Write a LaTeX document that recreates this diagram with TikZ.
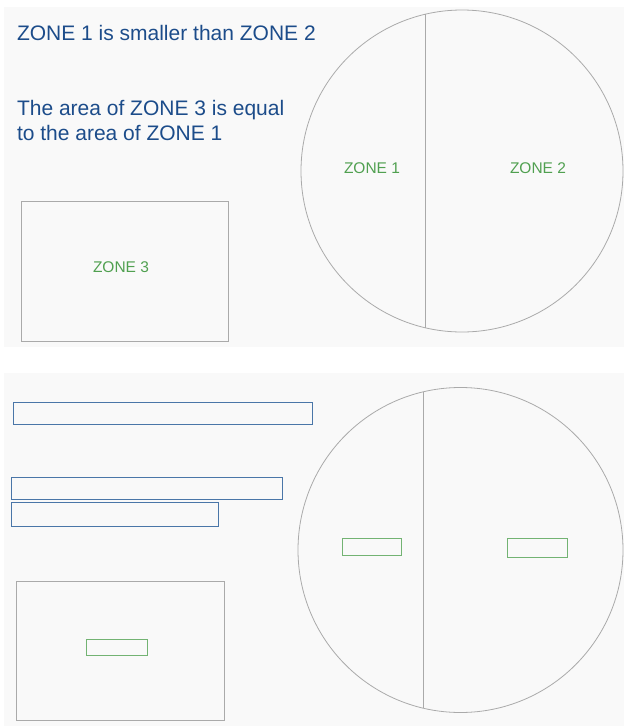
\documentclass[tikz,border=0pt]{standalone}
\usepackage{fontspec}
\setmainfont{Liberation Sans}
\definecolor{panelgray}{RGB}{249,249,249}
\definecolor{linegray}{RGB}{170,170,170}
\definecolor{textblue}{RGB}{28,76,138}
\definecolor{boxblue}{RGB}{74,118,168}
\definecolor{zonegreen}{RGB}{80,160,80}
\begin{document}
\begin{tikzpicture}[
  x=1pt, y=-1pt,
  every node/.style={inner sep=0pt, outer sep=0pt},
  panel/.style={fill=panelgray},
  statement/.style={font=\fontsize{21}{25}\selectfont, text=textblue, align=left},
  disc/.style={circle, draw=linegray, line width=0.8pt},
  chord/.style={draw=linegray, line width=1pt},
  zonebox/.style={rectangle, draw=linegray, line width=0.9pt},
  zonelabel/.style={font=\fontsize{15.5}{18}\selectfont, text=zonegreen},
  textslot/.style={rectangle, draw=boxblue, line width=1pt, minimum height=22pt},
  labelslot/.style={rectangle, draw=zonegreen!80, line width=0.9pt}
]
\useasboundingbox (0,0) rectangle (624,726);

% Panels
\fill[panel] (4,7) rectangle (624,347);
\fill[panel] (4,373) rectangle (624,726);

% Top panel: statements
\node[statement, anchor=base west] (claim1) at (17,40) {ZONE 1 is smaller than ZONE 2};
\node[statement, anchor=north west] (claim2) at (17,100.5) {The area of ZONE 3 is equal\\to the area of ZONE 1};

% Top panel: circle and rectangle
\node[disc, minimum size=322pt] (circleA) at (462,171) {};
\draw[chord] (circleA.103) -- (circleA.103 |- circleA.257);
\node[zonelabel] (zone1A) at (372,168) {ZONE 1};
\node[zonelabel] (zone2A) at (538,168) {ZONE 2};
\node[zonebox, minimum width=207pt, minimum height=140pt] (rectA) at (124.5,271) {};
\node[zonelabel] (zone3A) at (121,267) {ZONE 3};

% Bottom panel: empty slots
\node[textslot, minimum width=299pt] (slot1) at (162.5,413) {};
\node[textslot, minimum width=271pt] (slot2) at (146.5,488) {};
\node[textslot, minimum width=207pt, minimum height=24pt] (slot3) at (114.5,514) {};

\node[disc, minimum size=325pt] (circleB) at (460.5,550) {};
\draw[chord] (circleB.103) -- (circleB.103 |- circleB.257);
\node[labelslot, minimum width=59pt, minimum height=17pt] (zone1B) at (371.5,546.5) {};
\node[labelslot, minimum width=60pt, minimum height=19pt] (zone2B) at (537,547.5) {};
\node[zonebox, minimum width=208pt, minimum height=139pt] (rectB) at (120,650.5) {};
\node[labelslot, minimum width=61pt, minimum height=16pt] (zone3B) at (116.5,647) {};

\end{tikzpicture}
\end{document}
